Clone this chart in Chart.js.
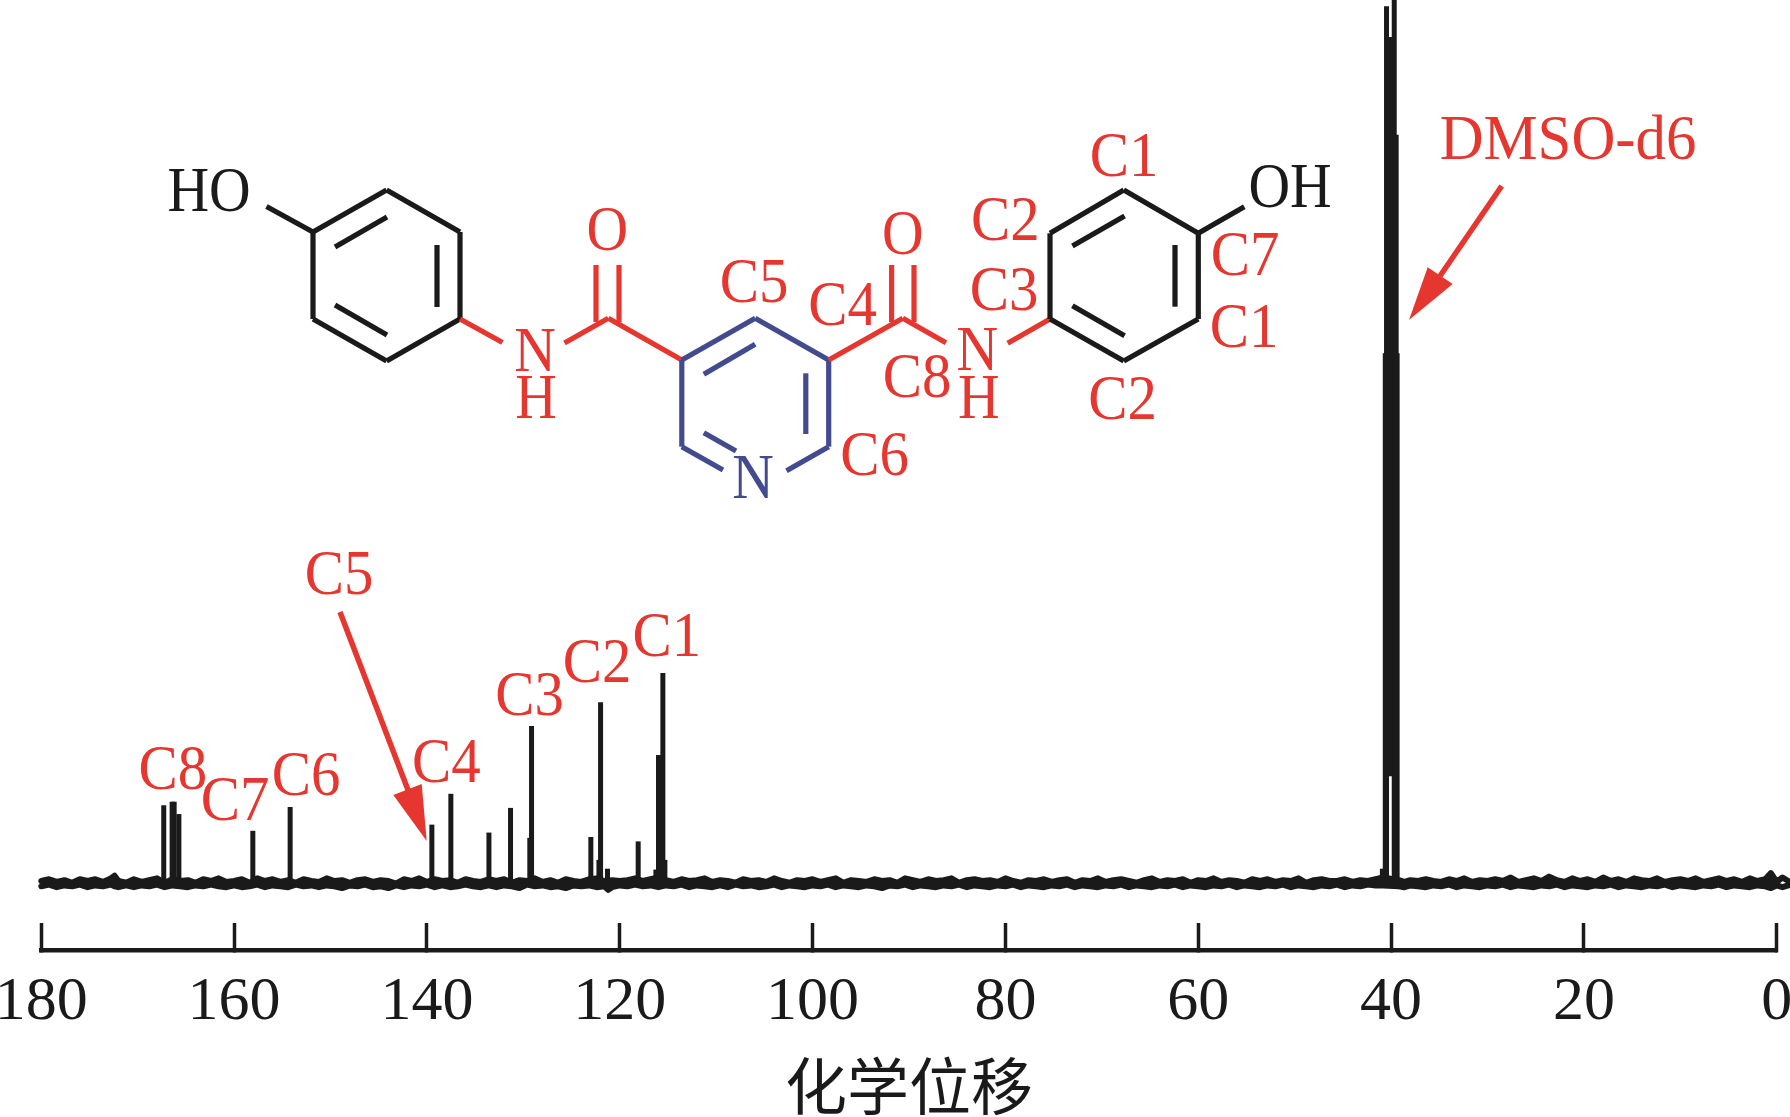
<!DOCTYPE html>
<html>
<head>
<meta charset="utf-8">
<title>13C NMR</title>
<script src="https://cdn.jsdelivr.net/npm/chart.js@4"></script>
<style>
  html, body { margin: 0; padding: 0; background: #fff; overflow: hidden; }
  canvas { display: block; }
</style>
</head>
<body>
<canvas id="nmr" width="1790" height="1117"></canvas>
<script>
const BLACK = '#1a1a1a'
const RED = '#e5372f'
const BLUE = '#414b8e'
const SERIF = '"Liberation Serif"'

// axis
const tickValues = [180, 160, 140, 120, 100, 80, 60, 40, 20, 0]
const axisTitle = '化学位移'

// peaks, ppm and height (height in arbitrary intensity, 100 = top of picture)
const peakPpm = [167.3, 166.43, 166.22, 165.73, 158.06, 154.19, 139.49, 137.52, 133.57, 131.33, 129.15, 129.33, 123.0, 121.99, 122.16, 121.27, 118.09, 115.98, 115.53, 115.32, 116.25]
const peakHeight = [8.6, 9.0, 9.0, 7.6, 5.7, 8.4, 6.4, 9.9, 5.5, 8.3, 17.6, 4.9, 5.0, 20.3, 2.4, 1.4, 4.5, 14.3, 23.6, 2.4, 1.3]

// solvent multiplet, some lines stand on the trough between them
const dmsoPpm = [40.47, 40.1, 39.67, 39.47, 39.37, 40.6, 40.9]
const dmsoTop = [99.3, 95.8, 106, 84.7, 59.9, 59.9, 1.4]
const dmsoBase = [0, 11.9, 0, 0, 0, 0, 0]

// baseline noise, upper and lower edge of the band
const baselinePpm = [
  180.0, 179.2, 178.4, 177.6, 176.8, 176.0, 175.2, 174.4, 173.6, 172.8, 172.4, 172.0, 171.2, 170.4, 169.6, 168.8, 168.0, 167.2, 166.4, 165.6,
  164.8, 164.0, 163.2, 162.4, 161.6, 160.8, 160.0, 159.2, 158.4, 157.6, 156.8, 156.0, 155.2, 154.4, 153.6, 152.8, 152.0, 151.2, 150.4, 149.6,
  148.8, 148.0, 147.2, 146.4, 145.6, 144.8, 144.0, 143.2, 142.4, 141.6, 140.8, 140.0, 139.2, 138.4, 137.6, 136.8, 136.0, 135.2, 134.4, 133.6,
  132.8, 132.0, 131.2, 130.4, 129.6, 128.8, 128.0, 127.2, 126.4, 125.6, 124.8, 124.0, 123.2, 122.4, 121.6, 121.2, 120.8, 120.0, 119.2, 118.4,
  117.6, 116.8, 116.0, 115.2, 114.4, 113.6, 112.8, 112.0, 111.2, 110.4, 109.6, 108.8, 108.0, 107.2, 106.4, 105.6, 104.8, 104.0, 103.2, 102.4,
  101.6, 100.8, 100.0, 99.2, 98.4, 97.6, 96.8, 96.0, 95.2, 94.4, 93.6, 92.8, 92.0, 91.2, 90.4, 89.6, 88.8, 88.0, 87.2, 86.4,
  85.6, 84.8, 84.0, 83.2, 82.4, 81.6, 80.8, 80.0, 79.2, 78.4, 77.6, 76.8, 76.0, 75.2, 74.4, 73.6, 72.8, 72.0, 71.2, 70.4,
  69.6, 68.8, 68.0, 67.2, 66.4, 65.6, 64.8, 64.0, 63.2, 62.4, 61.6, 60.8, 60.0, 59.2, 58.4, 57.6, 56.8, 56.0, 55.2, 54.4,
  53.6, 52.8, 52.0, 51.2, 50.4, 49.6, 48.8, 48.0, 47.2, 46.4, 45.6, 44.8, 44.0, 43.2, 42.4, 41.6, 40.8, 39.2, 38.6, 38.0,
  37.2, 36.4, 35.6, 34.8, 34.0, 33.2, 32.4, 31.6, 30.8, 30.0, 29.2, 28.4, 27.6, 26.8, 26.0, 25.2, 24.4, 23.6, 22.8, 22.0,
  21.2, 20.4, 19.6, 18.8, 18.0, 17.2, 16.4, 15.6, 14.8, 14.0, 13.2, 12.4, 11.6, 10.8, 10.0, 9.2, 8.4, 7.6, 6.8, 6.0,
  5.2, 4.4, 3.6, 2.8, 2.0, 1.2, 0.6, 0.0, -0.6, -1.2
]
const baselineUpper = [
  0.0, 0.2, -0.1, 0.1, -0.2, 0.2, 0.0, 0.2, -0.1, 0.3, 0.6, 0.0, -0.2, 0.2, -0.1, 0.1, 0.3, -0.2, 0.2, 0.0,
  0.1, -0.2, 0.2, 0.0, 0.3, -0.1, 0.0, 0.2, -0.2, 0.3, 0.0, 0.2, -0.1, 0.1, -0.2, 0.2, 0.0, -0.1, 0.3, 0.0,
  0.1, -0.2, 0.1, 0.2, -0.1, 0.1, 0.0, -0.3, 0.2, 0.0, 0.3, -0.1, 0.2, 0.0, 0.1, -0.2, 0.2, 0.0, -0.1, 0.2,
  0.0, 0.2, -0.2, 0.1, 0.0, 0.3, -0.1, 0.1, -0.2, 0.2, 0.0, -0.1, 0.2, 0.3, 0.0, 0.0, 0.1, 0.0, 0.1, 0.3,
  0.0, 0.2, 0.4, 0.1, -0.1, 0.2, 0.0, 0.1, 0.3, -0.1, 0.1, 0.0, -0.2, 0.2, 0.0, 0.1, -0.1, 0.3, 0.0, -0.2,
  0.1, 0.0, 0.2, -0.1, 0.1, 0.3, -0.2, 0.1, 0.0, -0.1, 0.2, 0.0, 0.1, -0.2, 0.3, 0.1, -0.1, 0.2, 0.0, 0.1,
  0.3, -0.2, 0.1, 0.2, 0.0, 0.1, -0.1, 0.3, 0.0, -0.2, 0.1, 0.0, 0.2, -0.1, 0.1, 0.2, -0.2, 0.1, 0.0, 0.3,
  -0.1, 0.1, 0.2, 0.0, -0.2, 0.1, 0.3, -0.1, 0.1, 0.0, 0.2, -0.2, 0.1, 0.0, 0.3, -0.1, 0.1, 0.0, -0.2, 0.2,
  0.0, 0.2, -0.1, 0.1, 0.0, 0.3, -0.2, 0.1, 0.2, 0.0, 0.0, 0.2, -0.1, 0.1, 0.0, 0.2, 0.4, 0.1, -0.1, 0.1,
  0.0, 0.2, 0.0, -0.1, 0.2, 0.0, 0.3, -0.1, 0.1, 0.0, 0.2, 0.0, 0.4, -0.1, 0.1, 0.3, 0.0, 0.5, 0.1, -0.1,
  0.3, 0.0, 0.2, -0.1, 0.4, 0.0, 0.2, -0.1, 0.3, 0.1, 0.0, 0.3, -0.1, 0.1, 0.2, 0.0, 0.3, -0.1, 0.1, 0.3,
  0.0, 0.2, -0.1, 0.3, 0.0, 0.2, 0.9, -0.1, 0.4, 0.0
]
const baselineLower = [
  -0.6, -0.4, -0.7, -0.5, -0.6, -0.4, -0.7, -0.5, -0.6, -0.4, -0.6, -0.7, -0.5, -0.7, -0.5, -0.6, -0.4, -0.7, -0.5, -0.6,
  -0.7, -0.5, -0.6, -0.4, -0.6, -0.7, -0.5, -0.7, -0.6, -0.4, -0.7, -0.5, -0.6, -0.7, -0.4, -0.6, -0.5, -0.7, -0.5, -0.6,
  -0.8, -0.5, -0.6, -0.4, -0.7, -0.6, -0.8, -0.5, -0.7, -0.5, -0.6, -0.4, -0.7, -0.5, -0.7, -0.6, -0.4, -0.6, -0.7, -0.5,
  -0.7, -0.5, -0.6, -0.8, -0.4, -0.6, -0.5, -0.7, -0.6, -0.8, -0.5, -0.6, -0.5, -0.7, -0.6, -1.0, -0.7, -0.5, -0.6, -0.4,
  -0.6, -0.5, -0.7, -0.5, -0.6, -0.4, -0.7, -0.5, -0.6, -0.7, -0.5, -0.7, -0.4, -0.6, -0.5, -0.7, -0.6, -0.4, -0.7, -0.5,
  -0.6, -0.7, -0.5, -0.6, -0.4, -0.7, -0.5, -0.6, -0.7, -0.5, -0.6, -0.8, -0.5, -0.6, -0.4, -0.7, -0.5, -0.6, -0.7, -0.5,
  -0.6, -0.4, -0.7, -0.5, -0.6, -0.7, -0.5, -0.6, -0.4, -0.7, -0.5, -0.6, -0.7, -0.5, -0.6, -0.4, -0.7, -0.5, -0.6, -0.7,
  -0.5, -0.6, -0.4, -0.7, -0.5, -0.6, -0.7, -0.5, -0.6, -0.4, -0.7, -0.5, -0.6, -0.7, -0.5, -0.6, -0.4, -0.7, -0.5, -0.6,
  -0.7, -0.5, -0.6, -0.4, -0.7, -0.5, -0.6, -0.7, -0.5, -0.6, -0.4, -0.7, -0.5, -0.6, -0.4, -0.5, -0.5, -0.6, -0.7, -0.5,
  -0.6, -0.7, -0.5, -0.6, -0.4, -0.7, -0.5, -0.6, -0.7, -0.5, -0.6, -0.4, -0.7, -0.5, -0.6, -0.7, -0.5, -0.6, -0.4, -0.7,
  -0.5, -0.6, -0.7, -0.5, -0.6, -0.4, -0.7, -0.5, -0.6, -0.7, -0.5, -0.6, -0.4, -0.7, -0.5, -0.6, -0.7, -0.5, -0.6, -0.4,
  -0.7, -0.5, -0.6, -0.7, -0.5, -0.6, -0.8, -0.5, -0.7, -0.5
]

// annotations, drawn over the plot in page pixels
const bonds = [
  // left ring + OH
  [BLACK, 313, 232, 386.6, 190], [BLACK, 386.6, 190, 460, 232], [BLACK, 460, 232, 460, 319], [BLACK, 460, 319, 386.6, 361], [BLACK, 386.6, 361, 313, 319], [BLACK, 313, 319, 313, 232],
  [BLACK, 335, 247, 387, 217], [BLACK, 437, 245, 437, 307], [BLACK, 335, 305, 387, 335], [BLACK, 266.5, 206.5, 313, 232],
  // left amide
  [RED, 460, 319, 502.5, 342.5], [RED, 564.5, 343, 608.3, 318.3], [RED, 608.3, 318.3, 681.8, 360], [RED, 596, 265, 596, 322], [RED, 619, 265, 619, 322],
  // pyridine
  [BLUE, 681.8, 360, 755.2, 318.3], [BLUE, 755.2, 318.3, 828.7, 360], [BLUE, 828.7, 360, 828.7, 446.7], [BLUE, 828.7, 446.7, 786.5, 470.7], [BLUE, 723, 470, 681.8, 446.7], [BLUE, 681.8, 446.7, 681.8, 360],
  [BLUE, 703.8, 374.3, 755.2, 344.3], [BLUE, 805.8, 373.3, 805.8, 434], [BLUE, 703.8, 432.7, 736, 451],
  // right amide
  [RED, 828.7, 360, 902.8, 318.3], [RED, 902.8, 318.3, 946, 342.7], [RED, 891.6, 265, 891.6, 322], [RED, 914, 265, 914, 322], [RED, 1007.7, 343.3, 1050, 319],
  // right ring + OH
  [BLACK, 1050, 233.3, 1123.8, 190], [BLACK, 1123.8, 190, 1198.3, 233.3], [BLACK, 1198.3, 233.3, 1198.3, 319], [BLACK, 1198.3, 319, 1123.8, 361], [BLACK, 1123.8, 361, 1050, 319], [BLACK, 1050, 319, 1050, 233.3],
  [BLACK, 1072.4, 246, 1124.6, 216], [BLACK, 1175, 245, 1175, 306.7], [BLACK, 1072.4, 305.7, 1124.6, 335.7], [BLACK, 1198.3, 233.3, 1244.3, 206.7]
]

// text, x centre, baseline, colour
const labels = [
  ['HO', 209, 211, BLACK], ['OH', 1290, 207, BLACK],
  ['O', 607.4, 250, RED], ['N', 535, 371, RED], ['H', 536, 418, RED],
  ['O', 902.8, 254, RED], ['N', 977.4, 370, RED], ['H', 978.7, 418, RED],
  ['N', 753, 498, BLUE],
  ['C1', 1124, 176, RED], ['C2', 1005.4, 240, RED], ['C3', 1004, 310, RED], ['C7', 1245, 275, RED], ['C1', 1244, 347, RED],
  ['C2', 1122.6, 419, RED], ['C8', 917, 397, RED], ['C4', 842.5, 325, RED], ['C6', 874.6, 475, RED], ['C5', 754, 302, RED],
  ['C5', 339, 594, RED], ['C8', 172.9, 789, RED], ['C7', 235, 820, RED], ['C6', 306, 795, RED], ['C4', 446.4, 782, RED],
  ['C3', 529.6, 715, RED], ['C2', 597, 682, RED], ['C1', 666.8, 656, RED]
]

// shaft start, shaft end, head tip, two head corners
const arrows = [
  [340, 612, 408, 790, 426.7, 841, 393.3, 795, 421.7, 784],
  [1501.7, 186, 1440, 276, 1409, 320, 1427.7, 267.3, 1452.7, 284]
]

const spikeSets = peakPpm.map((p, i) => ({
  data: [{ x: p, y: 0 }, { x: p, y: peakHeight[i] }],
  borderColor: BLACK,
  borderWidth: 5,
  pointRadius: 0,
  showLine: true,
  clip: false
}))

const dmsoSets = dmsoPpm.map((p, i) => ({
  data: [{ x: p, y: dmsoBase[i] }, { x: p, y: dmsoTop[i] }],
  borderColor: BLACK,
  borderWidth: 5,
  pointRadius: 0,
  showLine: true,
  clip: false
}))

const baselineSets = [baselineUpper, baselineLower].map((values, n) => ({
  data: baselinePpm.map((p, i) => ({ x: p, y: values[i] })),
  borderColor: BLACK,
  backgroundColor: BLACK,
  borderWidth: 6,
  borderJoinStyle: 'round',
  borderCapStyle: 'round',
  fill: n == 0 ? '+1' : false,
  pointRadius: 0,
  showLine: true,
  clip: false
}))

const annotations = {
  id: 'annotations',
  afterDraw(chart) {
    const c = chart.ctx
    c.save()
    c.lineWidth = 5.2
    c.lineCap = 'butt'
    bonds.forEach(b => {
      c.strokeStyle = b[0]
      c.beginPath()
      c.moveTo(b[1], b[2])
      c.lineTo(b[3], b[4])
      c.stroke()
    })
    c.lineCap = 'round'
    c.lineJoin = 'round'
    c.textAlign = 'center'
    c.textBaseline = 'alphabetic'
    c.font = '64px ' + SERIF
    labels.forEach(l => {
      c.save()
      c.translate(l[1], l[2])
      c.scale(l[0].length > 1 && l[0][0] == 'C' ? 0.92 : 0.9, 1)
      c.fillStyle = l[3]
      c.fillText(l[0], 0, 0)
      c.restore()
    })
    c.save()
    c.translate(1568, 159)
    c.scale(0.95, 1)
    c.fillStyle = RED
    c.fillText('DMSO-d6', 0, 0)
    c.restore()
    c.strokeStyle = RED
    c.fillStyle = RED
    c.lineWidth = 5.5
    c.lineCap = 'butt'
    arrows.forEach(a => {
      c.beginPath()
      c.moveTo(a[0], a[1])
      c.lineTo(a[2], a[3])
      c.stroke()
      c.beginPath()
      c.moveTo(a[4], a[5])
      c.lineTo(a[6], a[7])
      c.lineTo(a[8], a[9])
      c.closePath()
      c.fill()
    })
    c.restore()
  }
}

new Chart(document.getElementById('nmr'), {
  type: 'scatter',
  data: { datasets: [...baselineSets, ...spikeSets, ...dmsoSets] },
  plugins: [annotations],
  options: {
    responsive: false,
    animation: false,
    layout: { padding: { left: 41.3, right: 13.3, top: 0, bottom: 0 } },
    plugins: { legend: { display: false }, tooltip: { enabled: false } },
    scales: {
      x: {
        type: 'linear',
        reverse: true,
        min: 0,
        max: 180,
        afterBuildTicks(scale) {
          scale.ticks = tickValues.map(v => ({ value: v }))
        },
        afterFit(scale) {
          scale.height = 167
          scale.paddingLeft = 0
          scale.paddingRight = 0
        },
        border: { display: true, color: BLACK, width: 4.5 },
        grid: { drawOnChartArea: false, drawTicks: true, tickLength: -27, tickWidth: 3.5, tickColor: BLACK },
        ticks: { autoSkip: false, maxRotation: 0, color: BLACK, padding: 43, font: { family: SERIF, size: 62 } },
        title: { display: true, text: axisTitle, color: BLACK, padding: 0, font: { family: '"Noto Sans CJK SC"', size: 62, lineHeight: 1 } }
      },
      y: { display: false, min: -7.83, max: 100 }
    }
  }
})
</script>
</body>
</html>
